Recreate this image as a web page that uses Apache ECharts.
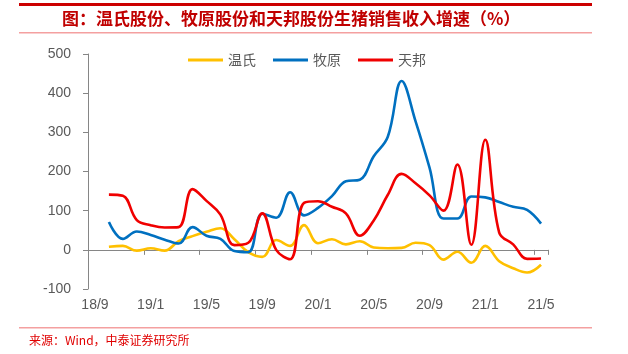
<!DOCTYPE html>
<html>
<head>
<meta charset="utf-8">
<script src="https://cdn.jsdelivr.net/npm/echarts@6/dist/echarts.min.js"></script>
<style>
html,body{margin:0;padding:0;background:#fff;}
#chart{width:628px;height:354px;}
</style>
</head>
<body>
<div id="chart"></div>
<script>
var categories = ['18/9','18/10','18/11','18/12','19/1','19/2','19/3','19/4','19/5','19/6','19/7','19/8',
  '19/9','19/10','19/11','19/12','20/1','20/2','20/3','20/4','20/5','20/6','20/7','20/8',
  '20/9','20/10','20/11','20/12','21/1','21/2','21/3','21/4','21/5'];
var wens = [null,8,10,-2,4,-2,22,35,46,55,27,-6,-18,25,10,63,17,27,14,22,6,4,5,18,12,-25,-5,-33,10,-29,-47,-58,-38];
var muyuan = [null,71,28,47,38,26,16,58,36,28,-3,-6,92,82,147,88,107,137,175,179,239,288,431,328,210,80,80,136,134,122,110,102,67];
var tianbang = [null,141,138,76,63,57,58,155,125,90,12,18,93,0,-24,120,124,110,93,36,75,140,194,170,139,100,218,13,281,44,14,-23,-22];
var seriesNames = ['温氏','牧原','天邦'];
var yTicks = {min:-100, max:500, interval:100};

var chart = echarts.init(document.getElementById('chart'), null, {renderer:'canvas'});
var labelColor = '#595959';
var axisColor = '#868686';
function mk(name, data, color){
  return {name:name, type:'line', data:data, smooth:0.4, symbol:'none', xAxisIndex:0,
    lineStyle:{color:color, width:2.6}, itemStyle:{color:color}, connectNulls:false};
}
chart.setOption({
  animation:false,
  backgroundColor:'#ffffff',
  grid:{left:88, right:80, top:54, bottom:65},
  legend:{left:183, top:48, icon:'rect', itemWidth:35, itemHeight:3, itemGap:17,
    textStyle:{color:labelColor, fontSize:14, fontFamily:'Noto Sans CJK SC'},
    data:seriesNames},
  xAxis:[{
    type:'category', data:categories, boundaryGap:true, position:'bottom',
    axisLine:{show:false, onZero:false}, axisTick:{show:false},
    axisLabel:{interval:3, color:labelColor, fontSize:14, fontFamily:'Liberation Sans', margin:9}
  },{
    type:'category', data:categories, boundaryGap:true, position:'bottom',
    axisLine:{show:true, onZero:true, lineStyle:{color:axisColor, width:1}},
    axisTick:{show:true, interval:3, length:5, inside:false, lineStyle:{color:axisColor}},
    axisLabel:{show:false}
  }],
  yAxis:{type:'value', min:yTicks.min, max:yTicks.max, interval:yTicks.interval,
    axisLine:{show:true, lineStyle:{color:axisColor, width:1}},
    axisTick:{show:true, length:5, lineStyle:{color:axisColor}},
    splitLine:{show:false},
    axisLabel:{color:labelColor, fontSize:14, fontFamily:'Liberation Sans', margin:17}},
  series:[mk(seriesNames[0], wens, '#FFC000'), mk(seriesNames[1], muyuan, '#0070C0'), mk(seriesNames[2], tianbang, '#F00000')],
  graphic:[
    {type:'rect', shape:{x:19, y:3, width:573, height:3}, style:{fill:'#CC0000'}},
    {type:'text', x:62, y:19, style:{text:'图：温氏股份、牧原股份和天邦股份生猪销售收入增速（%）', fill:'#C00000',
      font:'bold 17px "Noto Sans CJK SC"', textVerticalAlign:'middle'}},
    {type:'rect', shape:{x:19, y:32, width:573, height:1.5}, style:{fill:'#F4A0A0'}},
    {type:'rect', shape:{x:19, y:327, width:573, height:1.5}, style:{fill:'#F4A0A0'}},
    {type:'text', x:29, y:340, style:{text:'来源：Wind，中泰证券研究所', fill:'#E00000',
      font:'12px "Noto Sans CJK SC"', textVerticalAlign:'middle'}}
  ]
});
</script>
</body>
</html>
